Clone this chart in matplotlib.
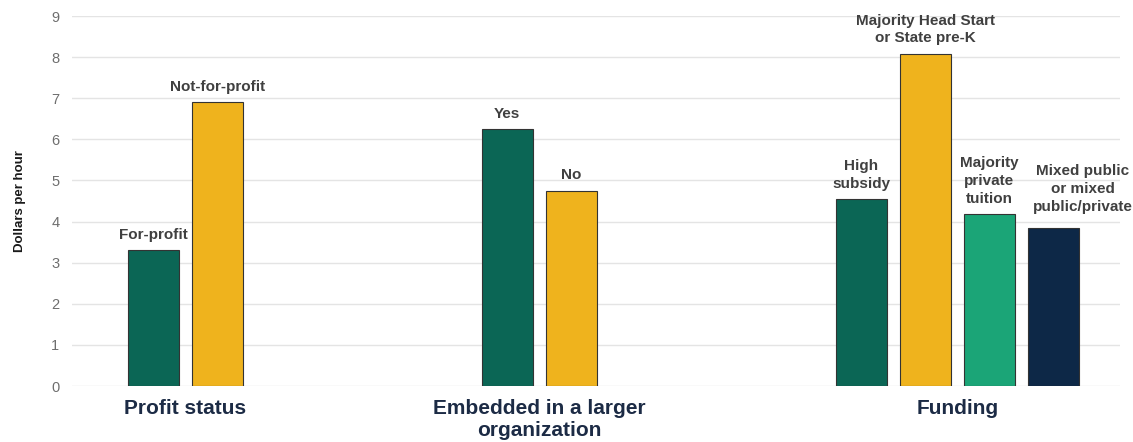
import matplotlib.pyplot as plt

plt.rcParams["font.family"] = ["Liberation Sans", "DejaVu Sans"]

groups = ["Profit status", "Embedded in a larger\norganization", "Funding"]
bar_labels = [
    ["For-profit", "Not-for-profit"],
    ["Yes", "No"],
    ["High\nsubsidy", "Majority Head Start\nor State pre-K", "Majority\nprivate\ntuition",
     "Mixed public\nor mixed\npublic/private"],
]
values = [
    [3.3, 6.9],
    [6.25, 4.75],
    [4.55, 8.08, 4.18, 3.85],
]
colors = [
    ["#0b6655", "#efb31d"],
    ["#0b6655", "#efb31d"],
    ["#0b6655", "#efb31d", "#1ba577", "#0d2847"],
]

GAP = 4.53
fig = plt.figure(figsize=(11.33, 4.42), dpi=100)
ax = fig.add_axes([72 / 1133, (442 - 386) / 442, (1120 - 72) / 1133, 370 / 442])

start = 0
for g, name in enumerate(groups):
    xs = [start + i for i in range(len(values[g]))]
    ax.bar(xs, values[g], width=0.8, color=colors[g], edgecolor="#333333", linewidth=0.8, zorder=3)
    for i, (x, v) in enumerate(zip(xs, values[g])):
        dx = 21 if (g == 2 and i == 3) else 0
        dy = 10 if (g == 2 and i == 3) else 6
        ax.annotate(bar_labels[g][i], (x, v), xytext=(dx, dy), textcoords="offset points",
                    ha="center", va="bottom", fontsize=11, fontweight="bold",
                    color="#404040", linespacing=1.35)
    center = (xs[0] + xs[-1]) / 2
    ax.annotate(name, (center, 0), xytext=(0, -9), textcoords="offset points",
                ha="center", va="top", fontsize=15, fontweight="bold", color="#1c2b45",
                linespacing=1.2, annotation_clip=False)
    start = xs[-1] + GAP

ax.set_xlim(-1.27, 15.1)
ax.set_ylim(0, 9)
ax.set_yticks(range(10))
ax.tick_params(axis="y", length=0, labelsize=10.5, labelcolor="#6e6e6e", pad=9)
ax.set_xticks([])
ax.grid(axis="y", color="#e4e4e4", linewidth=1, zorder=0)
for s in ax.spines.values():
    s.set_visible(False)
ax.set_ylabel("Dollars per hour", fontsize=9.5, fontweight="bold", color="#1a1a1a", labelpad=18)

fig.savefig("out.png", dpi=100)
